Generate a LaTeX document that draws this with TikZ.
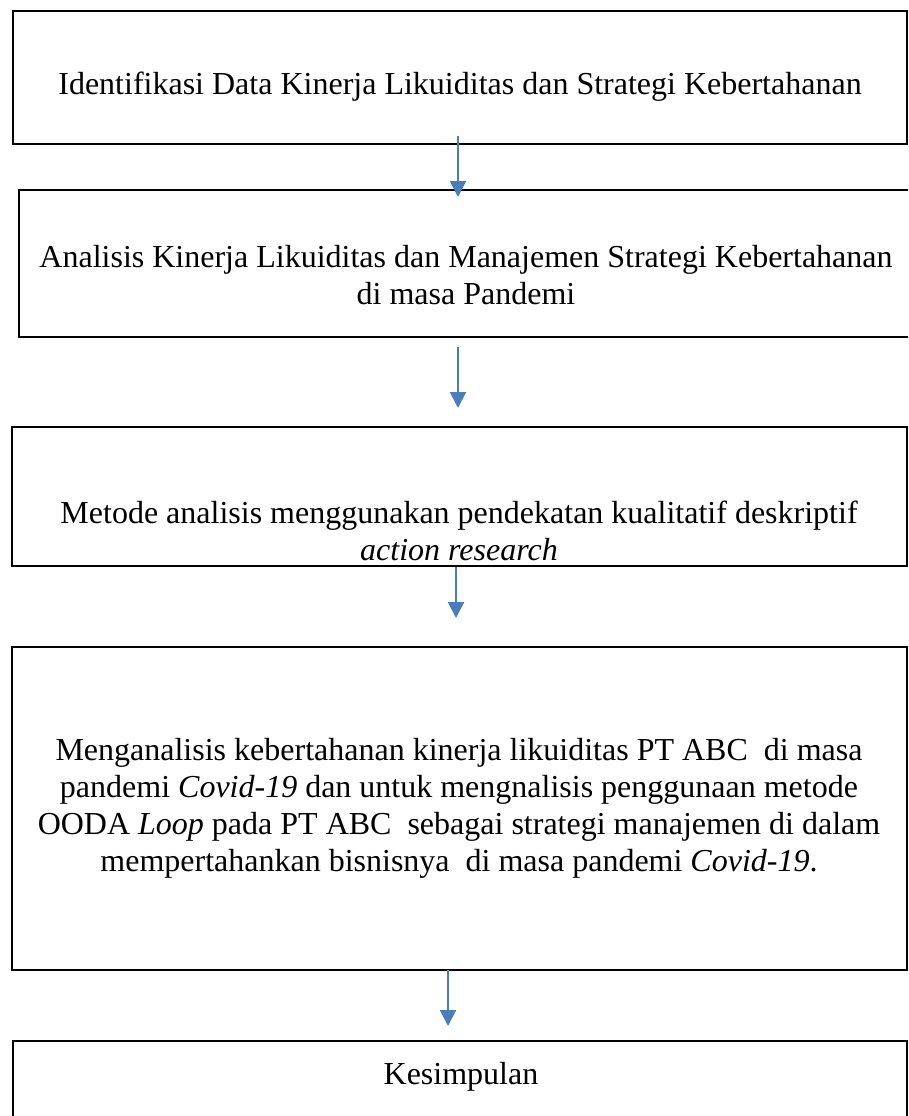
\documentclass[tikz,border=0pt]{standalone}
\usepackage{fontspec}
\setmainfont{Liberation Serif}
\usetikzlibrary{arrows.meta}
\definecolor{arrCol}{rgb}{0.29, 0.49, 0.73}

\begin{document}
\begin{tikzpicture}[x=1pt,y=-1pt,
    box/.style={draw, line width=1.7pt, inner sep=0pt, rectangle},
    lbl/.style={align=center, anchor=base, inner sep=0pt,
      font=\fontsize{32}{37}\selectfont},
    flow/.style={-{Triangle[width=16pt,length=16pt]}, line width=2pt, arrCol}]
%      \draw [help lines] (0, 0) grid (908, 1116);
      \clip (0,0) rectangle (908,1116);
      %% the boxes, sizes taken from the page
      \node [box, minimum width=894, minimum height=133] (b1) at (460,77.5) {};
      \node [box, minimum width=896, minimum height=147] (b2) at (467,263.5) {};
      \node [box, minimum width=895, minimum height=139] (b3) at (459.5,496.5) {};
      \node [box, minimum width=895, minimum height=323] (b4) at (459.5,808.5) {};
      \node [box, minimum width=894, minimum height=84] (b5) at (460,1083) {};

      %% base of a text node is the baseline of its last line
      \node [lbl] (t1) at (460,94)
        {Identifikasi Data Kinerja Likuiditas dan Strategi Kebertahanan};
      \node [lbl] (t2) at (466,304)
        {Analisis Kinerja Likuiditas dan Manajemen Strategi Kebertahanan\\
         di masa Pandemi};
      \node [lbl] (t3) at (459,560)
        {Metode analisis menggunakan pendekatan kualitatif deskriptif\\
         \textit{action research}};
      \node [lbl] (t4) at (459,871)
        {Menganalisis kebertahanan kinerja likuiditas PT ABC\ \ di masa\\
         pandemi \textit{Covid-19} dan untuk mengnalisis penggunaan metode\\
         OODA \textit{Loop} pada PT ABC\ \ sebagai strategi manajemen di dalam\\
         mempertahankan bisnisnya\ \ di masa pandemi \textit{Covid-19}.};
      \node [lbl] (t5) at (461,1084) {Kesimpulan};

      %% arrows do not touch the boxes, so free ends
      \coordinate (a1) at (458,136);  \coordinate (e1) at (458,197);
      \coordinate (a2) at (458,347);  \coordinate (e2) at (458,408);
      \coordinate (a3) at (456,567);  \coordinate (e3) at (456,618);
      \coordinate (a4) at (448,970);  \coordinate (e4) at (448,1026);
      \foreach \i in {1,...,4} {
        \draw [flow] (a\i) -- (e\i);
      }
    \end{tikzpicture}
\end{document}
